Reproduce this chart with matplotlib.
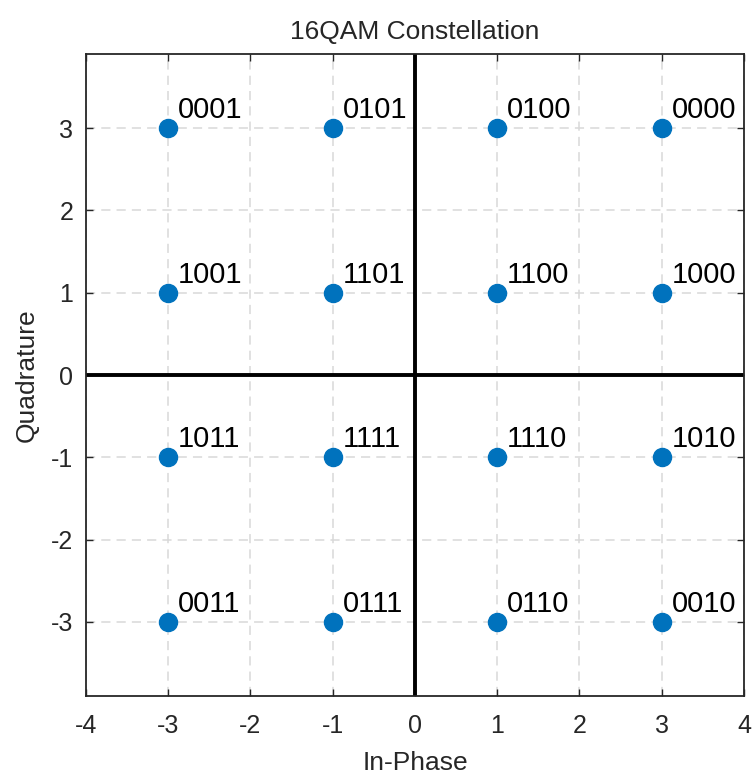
import matplotlib
matplotlib.use("Agg")
import matplotlib.pyplot as plt

# 16QAM symbol positions and their Gray-coded bit labels
in_phase = [-3, -1, 1, 3, -3, -1, 1, 3, -3, -1, 1, 3, -3, -1, 1, 3]
quadrature = [3, 3, 3, 3, 1, 1, 1, 1, -1, -1, -1, -1, -3, -3, -3, -3]
bit_labels = ["0001", "0101", "0100", "0000",
              "1001", "1101", "1100", "1000",
              "1011", "1111", "1110", "1010",
              "0011", "0111", "0110", "0010"]
x_ticks = [-4, -3, -2, -1, 0, 1, 2, 3, 4]
y_ticks = [-3, -2, -1, 0, 1, 2, 3]

plt.rcParams["font.family"] = ["Liberation Sans", "DejaVu Sans"]

fig = plt.figure(figsize=(7.53, 7.81), dpi=100)
ax = fig.add_axes([0.1142, 0.1088, 0.8738, 0.8220])

ax.set_xlim(-4, 4)
ax.set_ylim(-3.9, 3.9)
ax.set_xticks(x_ticks)
ax.set_yticks(y_ticks)
ax.set_xticklabels([str(v) for v in x_ticks])
ax.set_yticklabels([str(v) for v in y_ticks])

ax.grid(True, color="#d9d9d9", linestyle=(0, (6, 4)), linewidth=1.1)
ax.set_axisbelow(True)

# Thick reference axes through the origin
ax.axhline(0, color="black", linewidth=2.8, zorder=2)
ax.axvline(0, color="black", linewidth=2.8, zorder=2)

ax.plot(in_phase, quadrature, linestyle="none", marker="o",
        markersize=13, color="#0072BD", zorder=3)

for xi, qi, lab in zip(in_phase, quadrature, bit_labels):
    ax.text(xi + 0.12, qi + 0.22, lab, ha="left", va="center",
            fontsize=21, color="black", zorder=4)

for side in ax.spines.values():
    side.set_color("#262626")
    side.set_linewidth(1.3)

ax.tick_params(direction="in", length=5, width=1.0, color="#262626",
               labelcolor="#262626", labelsize=18, top=True, right=True)
ax.tick_params(axis="x", pad=13)
ax.tick_params(axis="y", pad=9)

ax.set_title("16QAM Constellation", fontsize=19, color="#262626", pad=11)
ax.set_xlabel("In-Phase", fontsize=19, color="#262626", labelpad=9)
ax.set_ylabel("Quadrature", fontsize=19, color="#262626", labelpad=9)

fig.savefig("out.png", dpi=100, facecolor="white")
